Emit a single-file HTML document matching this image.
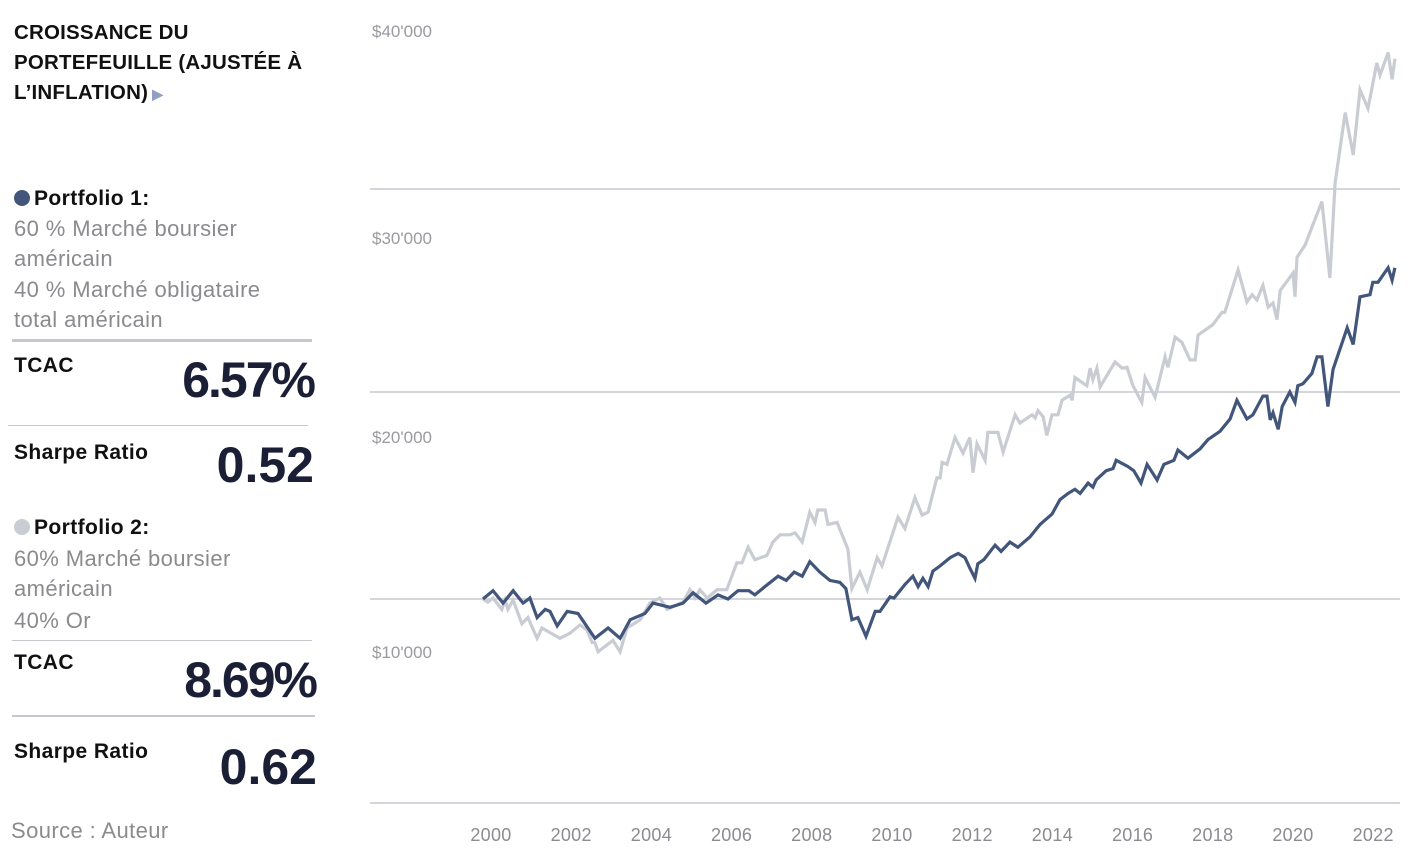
<!DOCTYPE html>
<html><head><meta charset="utf-8">
<style>
body{margin:0;width:1424px;height:854px;background:#fff;position:relative;overflow:hidden;font-family:"Liberation Sans",sans-serif}
.a{position:absolute;white-space:nowrap}
.t{font-size:21px;font-weight:bold;color:#111;line-height:30px;left:14px;letter-spacing:0.4px}
.g{font-size:22px;color:#8b8b8f;line-height:30px;left:14px;letter-spacing:0.4px}
.big{font-size:50px;font-weight:bold;color:#1a1f36;line-height:50px;right:1110px;letter-spacing:-2px}
.hr{position:absolute;background:#c5c8d0}
</style></head><body>
<div class="a t" style="top:18px;line-height:30px;font-size:20.5px;letter-spacing:0.2px">CROISSANCE DU<br>PORTEFEUILLE (AJUSTÉE À<br>L’INFLATION)<span style="color:#8fa0c0;font-size:14px"> ▶</span></div>

<div class="a t" style="top:184px"><span style="display:inline-block;width:16px;height:16px;border-radius:50%;background:#42557a;vertical-align:-1px;margin-right:4px"></span>Portfolio 1:</div>
<div class="a g" style="top:214px">60 % Marché boursier<br>américain</div>
<div class="a g" style="top:275px">40 % Marché obligataire<br>total américain</div>
<div class="hr" style="left:12px;top:339px;width:300px;height:3px"></div>
<div class="a t" style="top:351px">TCAC</div>
<div class="a big" style="top:355px">6.57%</div>
<div class="hr" style="left:8px;top:425px;width:300px;height:1px"></div>
<div class="a t" style="top:438px">Sharpe Ratio</div>
<div class="a big" style="top:440px;letter-spacing:0">0.52</div>

<div class="a t" style="top:513px"><span style="display:inline-block;width:16px;height:16px;border-radius:50%;background:#c9ccd3;vertical-align:-1px;margin-right:4px"></span>Portfolio 2:</div>
<div class="a g" style="top:544px">60% Marché boursier<br>américain</div>
<div class="a g" style="top:606px">40% Or</div>
<div class="hr" style="left:12px;top:640px;width:300px;height:1px"></div>
<div class="a t" style="top:648px">TCAC</div>
<div class="a big" style="top:655px;right:1108px">8.69%</div>
<div class="hr" style="left:12px;top:715px;width:303px;height:2px"></div>
<div class="a t" style="top:737px">Sharpe Ratio</div>
<div class="a big" style="top:742px;right:1107px;letter-spacing:0">0.62</div>
<div class="a g" style="top:816px;left:11px">Source : Auteur</div>

<svg id="chart" class="a" style="left:0;top:0" width="1424" height="854"></svg>
<script>
const yTickLabels=["$10'000","$20'000","$30'000","$40'000"];
const xTickYears=[2000,2002,2004,2006,2008,2010,2012,2014,2016,2018,2020,2022];
const p1Years=[2000.00,2000.25,2000.50,2000.75,2001.00,2001.17,2001.35,2001.55,2001.67,2001.85,2002.10,2002.37,2002.79,2003.12,2003.42,2003.67,2004.04,2004.24,2004.66,2004.99,2005.24,2005.56,2005.86,2006.11,2006.36,2006.63,2006.78,2007.03,2007.36,2007.56,2007.76,2007.96,2008.15,2008.40,2008.65,2008.90,2009.05,2009.20,2009.35,2009.55,2009.78,2009.90,2010.15,2010.25,2010.40,2010.52,2010.72,2010.85,2010.97,2011.10,2011.22,2011.40,2011.65,2011.85,2012.02,2012.14,2012.27,2012.34,2012.49,2012.77,2012.92,2013.14,2013.34,2013.64,2013.89,2014.01,2014.19,2014.39,2014.59,2014.76,2014.89,2015.09,2015.21,2015.29,2015.54,2015.71,2015.79,2016.08,2016.23,2016.41,2016.56,2016.81,2016.98,2017.23,2017.33,2017.58,2017.88,2018.08,2018.38,2018.63,2018.80,2019.05,2019.20,2019.45,2019.55,2019.63,2019.70,2019.83,2019.93,2020.12,2020.25,2020.32,2020.45,2020.67,2020.80,2020.92,2021.07,2021.20,2021.55,2021.70,2021.87,2022.12,2022.19,2022.32,2022.57,2022.67,2022.74];
const p1Values=[10.0,10.4,9.8,10.4,9.8,10.05,9.1,9.5,9.4,8.7,9.4,9.3,8.1,8.6,8.1,9.0,9.3,9.8,9.6,9.8,10.3,9.8,10.2,10.0,10.4,10.4,10.2,10.6,11.1,10.9,11.3,11.1,11.8,11.3,10.9,10.8,10.5,9.0,9.1,8.2,9.4,9.4,10.1,10.05,10.4,10.7,11.1,10.6,11.0,10.6,11.35,11.6,12.0,12.2,12.0,11.5,11.0,11.7,11.9,12.6,12.3,12.75,12.5,13.0,13.6,13.8,14.1,14.8,15.1,15.3,15.1,15.6,15.4,15.75,16.2,16.3,16.7,16.4,16.2,15.6,16.5,15.75,16.5,16.7,17.2,16.8,17.25,17.7,18.1,18.7,19.6,18.7,18.9,19.8,19.8,18.65,19.0,18.2,19.3,20.0,19.5,20.3,20.4,20.9,21.7,21.7,19.3,21.1,23.1,22.3,24.6,24.7,25.3,25.3,26.0,25.4,26.0].map(v=>v*1000);
const p2Years=[2000.00,2000.12,2000.25,2000.47,2000.55,2000.62,2000.75,2000.97,2001.12,2001.35,2001.47,2001.92,2002.17,2002.42,2002.59,2002.72,2002.79,2002.87,2003.24,2003.42,2003.59,2003.92,2004.16,2004.41,2004.59,2004.99,2005.16,2005.29,2005.41,2005.59,2005.84,2006.08,2006.33,2006.46,2006.61,2006.78,2007.08,2007.23,2007.41,2007.66,2007.78,2007.96,2008.15,2008.28,2008.35,2008.53,2008.60,2008.83,2009.10,2009.20,2009.40,2009.58,2009.83,2009.95,2010.35,2010.52,2010.77,2010.95,2011.10,2011.32,2011.40,2011.45,2011.57,2011.77,2011.97,2012.14,2012.22,2012.32,2012.52,2012.59,2012.84,2012.97,2013.27,2013.39,2013.69,2013.77,2013.84,2013.97,2014.06,2014.19,2014.34,2014.44,2014.64,2014.69,2014.76,2015.06,2015.14,2015.21,2015.31,2015.39,2015.76,2015.94,2016.06,2016.21,2016.43,2016.51,2016.76,2017.01,2017.08,2017.26,2017.43,2017.63,2017.76,2017.83,2018.20,2018.43,2018.50,2018.83,2019.05,2019.18,2019.30,2019.45,2019.58,2019.70,2019.80,2019.88,2020.20,2020.25,2020.30,2020.50,2020.92,2021.12,2021.25,2021.50,2021.70,2021.87,2022.07,2022.29,2022.37,2022.57,2022.67,2022.74];
const p2Values=[10.0,9.85,10.05,9.5,9.95,9.5,9.95,8.8,9.1,8.1,8.6,8.1,8.35,8.75,8.5,7.9,7.9,7.45,8.0,7.45,8.6,9.0,9.8,10.05,9.5,9.85,10.45,10.05,10.45,10.05,10.45,10.45,11.75,11.75,12.5,11.9,12.1,12.75,13.1,13.1,13.2,12.75,14.2,13.7,14.3,14.3,13.6,13.7,12.4,10.5,11.3,10.45,12.0,11.6,13.95,13.4,14.9,14.05,14.2,15.85,15.85,16.6,16.5,17.8,17.05,17.8,16.1,17.5,16.7,18.05,18.05,17.1,18.9,18.5,18.9,18.75,19.1,18.8,17.9,18.9,18.9,19.6,19.85,19.6,20.7,20.3,21.15,20.6,21.15,20.25,21.45,21.15,21.2,20.3,19.5,20.7,19.75,21.7,21.2,22.65,22.4,21.55,21.55,22.75,23.25,23.85,23.85,25.9,24.35,24.7,24.45,25.15,24.1,24.3,23.5,24.9,25.75,24.6,26.5,27.1,29.2,25.5,30.1,33.5,31.45,34.6,33.7,35.9,35.3,36.4,35.1,36.1].map(v=>v*1000);

const NS='http://www.w3.org/2000/svg';
const svg=document.getElementById('chart');
function xs(yr){return 483+(yr-2000)*40.1;}
function ys(v){return 599-(v-10000)*0.0207;}
const gridYs=[189,392,599,803];
gridYs.forEach(y=>{
  const l=document.createElementNS(NS,'line');
  l.setAttribute('x1',370);l.setAttribute('x2',1400);l.setAttribute('y1',y);l.setAttribute('y2',y);
  l.setAttribute('stroke','#c5c8d0');l.setAttribute('stroke-width',1.5);
  
  
  svg.appendChild(l);
});
const yLabelTops=[652,437,238,31];
yTickLabels.forEach((t,i)=>{
  const tx=document.createElementNS(NS,'text');
  tx.setAttribute('x',372);tx.setAttribute('y',yLabelTops[i]+6);
  tx.setAttribute('font-size',17);tx.setAttribute('fill','#9a9aa0');tx.setAttribute('letter-spacing','0');
  tx.textContent=t;
  
  
  svg.appendChild(tx);
});
xTickYears.forEach(yr=>{
  const tx=document.createElementNS(NS,'text');
  tx.setAttribute('x',xs(yr)+8);tx.setAttribute('y',841);
  tx.setAttribute('font-size',18);tx.setAttribute('fill','#8b8b90');tx.setAttribute('text-anchor','middle');tx.setAttribute('letter-spacing','0.3');
  tx.textContent=yr;
  
  
  svg.appendChild(tx);
});
function line(years,vals,color,name){
  const p=document.createElementNS(NS,'polyline');
  p.setAttribute('points',years.map((y,i)=>xs(y).toFixed(1)+','+ys(vals[i]).toFixed(1)).join(' '));
  p.setAttribute('fill','none');p.setAttribute('stroke',color);p.setAttribute('stroke-width',3.2);p.setAttribute('stroke-linejoin','miter');
  
  
  svg.appendChild(p);
}
line(p2Years,p2Values,'#c9ccd3','portfolio-2-line');
line(p1Years,p1Values,'#42557a','portfolio-1-line');
</script>
</body></html>
